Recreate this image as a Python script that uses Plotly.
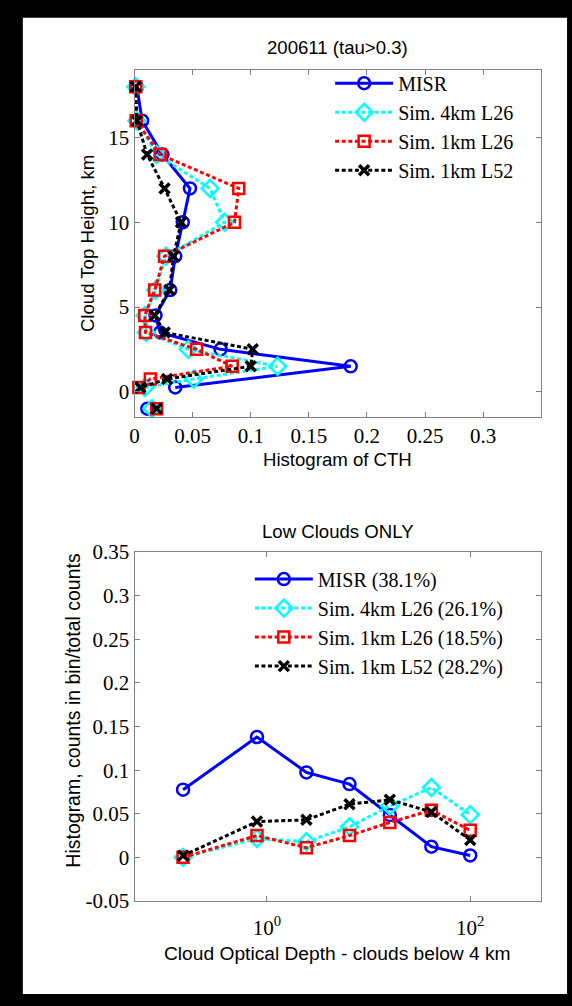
import plotly.graph_objects as go

W, H = 572, 1006

# ---------------- data ----------------
cth_heights = [18, 16, 14, 12, 10, 8, 6, 4.5, 3.5, 2.5, 1.5, 0.75, 0.25]
misr_cth = [0.002, 0.0065, 0.024, 0.0477, 0.0415, 0.035, 0.0307, 0.018, 0.022, 0.074, 0.186, None, 0.035]
sim4_l26_cth = [0.001, 0.002, 0.019, 0.065, 0.0775, 0.027, 0.018, 0.009, 0.010, 0.0463, 0.123, 0.051, 0.009]
sim1_l26_cth = [0.001, 0.0014, 0.022, 0.0897, 0.086, 0.0258, 0.0173, 0.0088, 0.0094, 0.0534, 0.084, 0.0136, 0.0037]
sim1_l52_cth = [0.001, 0.002, 0.0108, 0.0258, 0.040, 0.0335, 0.030, 0.0173, 0.026, 0.1017, 0.100, 0.028, 0.005]

noret_height = [-1]
noret_vals = [0.011, 0.015, 0.019, 0.019]  # MISR, 4km L26, 1km L26, 1km L52

tau_mid = [0.15, 0.8, 2.45, 6.5, 16.2, 41.5, 100]
misr_tau = [0.0776, 0.138, 0.0974, 0.084, 0.0485, 0.0123, 0.0022]
sim4_l26_tau = [0.0, 0.0216, 0.018, 0.035, 0.059, 0.080, 0.049]
sim1_l26_tau = [0.0, 0.025, 0.011, 0.025, 0.040, 0.054, 0.031]
sim1_l52_tau = [0.002, 0.041, 0.043, 0.061, 0.066, 0.052, 0.020]

names_top = ["MISR", "Sim. 4km L26", "Sim. 1km L26", "Sim. 1km L52"]
names_bot = ["MISR (38.1%)", "Sim. 4km L26 (26.1%)", "Sim. 1km L26 (18.5%)", "Sim. 1km L52 (28.2%)"]

cth_xticks = [0, 0.05, 0.1, 0.15, 0.2, 0.25, 0.3]
cth_xticktext = ["0", "0.05", "0.1", "0.15", "0.2", "0.25", "0.3"]
cth_yticks = [0, 5, 10, 15]
tau_yticks = [-0.05, 0, 0.05, 0.1, 0.15, 0.2, 0.25, 0.3, 0.35]
tau_yticktext = ["-0.05", "0", "0.05", "0.1", "0.15", "0.2", "0.25", "0.3", "0.35"]
tau_xticks = [1, 100]
tau_xticktext = ["10<sup>0</sup>", "10<sup>2</sup>"]

# ---------------- styles ----------------
DASH = "4px,2.6px"
styles = [
    dict(color="#0000ff", dash="solid", symbol="circle-open", size=12, mlw=2.5),
    dict(color="#00ffff", dash=DASH, symbol="diamond-open", size=13, mlw=2.5),
    dict(color="#ff0000", dash=DASH, symbol="square-open", size=11, mlw=2.5),
    dict(color="#000000", dash=DASH, symbol="x-thin-open", size=10, mlw=3.5),
]

def px_x(p):
    return p / W

def px_y(p):
    return 1 - p / H

def marker(st):
    return dict(symbol=st["symbol"], size=st["size"], color=st["color"],
                line=dict(width=st["mlw"], color=st["color"]))

fig = go.Figure()

top_series = [misr_cth, sim4_l26_cth, sim1_l26_cth, sim1_l52_cth]
for i, (vals, st) in enumerate(zip(top_series, styles)):
    fig.add_trace(go.Scatter(
        x=vals, y=cth_heights, mode="lines+markers", name=names_top[i],
        connectgaps=True, legend="legend",
        line=dict(color=st["color"], width=3, dash=st["dash"]),
        marker=marker(st), xaxis="x", yaxis="y", cliponaxis=False,
    ))
for i, st in enumerate(styles):
    fig.add_trace(go.Scatter(
        x=[noret_vals[i]], y=noret_height, mode="markers", showlegend=False,
        marker=marker(st), xaxis="x", yaxis="y", cliponaxis=False,
    ))

bot_series = [misr_tau, sim4_l26_tau, sim1_l26_tau, sim1_l52_tau]
for i, (vals, st) in enumerate(zip(bot_series, styles)):
    fig.add_trace(go.Scatter(
        x=tau_mid, y=vals, mode="lines+markers", name=names_bot[i],
        legend="legend2",
        line=dict(color=st["color"], width=3, dash=st["dash"]),
        marker=marker(st), xaxis="x2", yaxis="y2", cliponaxis=False,
    ))

AX = "#808080"
serif = "Liberation Serif, Times New Roman, serif"
tickfont = dict(family=serif, size=21, color="black")
common = dict(showline=True, linecolor=AX, linewidth=1, mirror="ticks", ticks="inside",
              ticklen=5, tickcolor=AX, tickwidth=1, showgrid=False, zeroline=False,
              tickfont=tickfont)

LEG_FONT = 20
xdom = [px_x(130.7), px_x(541)]
fig.update_layout(
    width=W, height=H, margin=dict(l=0, r=0, t=0, b=0),
    paper_bgcolor="black", plot_bgcolor="white",
    xaxis=dict(domain=xdom, range=[0, 0.35], tickvals=cth_xticks, ticktext=cth_xticktext,
               anchor="y", **common),
    yaxis=dict(domain=[px_y(415), px_y(59.3)], range=[-1.5, 19], tickvals=cth_yticks,
               anchor="x", **common),
    xaxis2=dict(domain=xdom, type="log", range=[-1.30103, 2.69897], tickvals=tau_xticks,
                ticktext=tau_xticktext, anchor="y2", ticklabelstandoff=8, **common),
    yaxis2=dict(domain=[px_y(910.7), px_y(553.3)], range=[-0.05, 0.35], tickvals=tau_yticks,
                ticktext=tau_yticktext, anchor="x2", **common),
    legend=dict(x=px_x(328), y=px_y(53), xanchor="left", yanchor="top",
                bgcolor="rgba(0,0,0,0)", borderwidth=0, itemwidth=58,
                font=dict(family=serif, size=LEG_FONT, color="black"),
                tracegroupgap=0),
    legend2=dict(x=px_x(247), y=px_y(561), xanchor="left", yanchor="top",
                 bgcolor="rgba(0,0,0,0)", borderwidth=0, itemwidth=58,
                 font=dict(family=serif, size=LEG_FONT, color="black"),
                 tracegroupgap=0),
    showlegend=True,
)

# white page background
fig.add_shape(type="rect", xref="paper", yref="paper", x0=px_x(18), x1=px_x(567),
              y0=px_y(1006), y1=px_y(6), fillcolor="white", line=dict(width=0), layer="below")

sans = "Liberation Sans, Arial, Helvetica, sans-serif"
def ann(text, x, y, size=18.6, angle=0):
    fig.add_annotation(text=text, x=px_x(x), y=px_y(y), xref="paper", yref="paper",
                       showarrow=False, textangle=angle, xanchor="center", yanchor="middle",
                       font=dict(family=sans, size=size, color="black"))

ann("200611 (tau&gt;0.3)", 335.9, 36.7)
ann("Histogram of CTH", 335.9, 458)
ann("Cloud Top Height, km", 84, 237.5, angle=-90)
ann("Low Clouds ONLY", 335.9, 531.7)
ann("Cloud Optical Depth - clouds below 4 km", 335.9, 964, size=19.2)
ann("Histogram, counts in bin/total counts", 68.3, 715, size=19.5, angle=-90)

fig.write_html("out.html")
